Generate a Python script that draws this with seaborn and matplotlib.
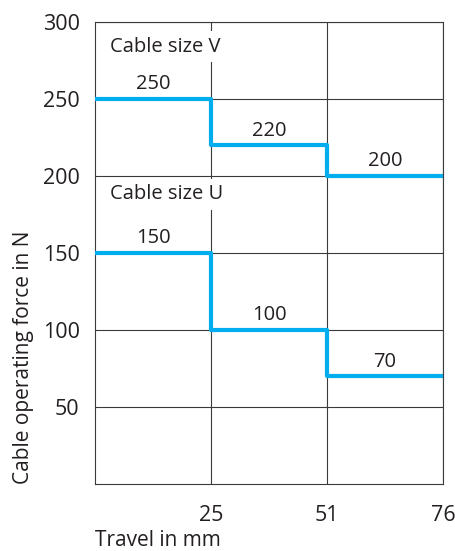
"""
Step chart: cable operating force vs travel for two cable sizes.
"""
import matplotlib
matplotlib.use("Agg")
import matplotlib.pyplot as plt
import seaborn as sns
import pandas as pd

# ----------------------------------------------------------------------
# Data
# ----------------------------------------------------------------------
TRAVEL = [0, 25, 51, 76]
FORCE_V = [250, 220, 200, 200]
FORCE_U = [150, 100, 70, 70]
Y_TICKS = [50, 100, 150, 200, 250, 300]
X_TICK_LABELS = ["25", "51", "76"]

LINE_COLOR = "#00AEEF"
GRID_COLOR = "#3a3a3a"
TEXT_COLOR = "#231f20"

sns.set_theme(style="white")
plt.rcParams["font.family"] = ["Open Sans", "DejaVu Sans"]

fig = plt.figure(figsize=(4.55, 5.51), dpi=100)
ax = fig.add_axes([95 / 455, 67 / 551, 348 / 455, 462 / 551])

# the chart spaces the travel stops evenly, so plot against stop index
pos = list(range(len(TRAVEL)))
df = pd.DataFrame({"pos": pos * 2,
                   "force": FORCE_V + FORCE_U,
                   "size": ["V"] * 4 + ["U"] * 4})

for size in ["V", "U"]:
    sns.lineplot(data=df[df["size"] == size], x="pos", y="force",
                 drawstyle="steps-post", color=LINE_COLOR, lw=3.0,
                 ax=ax, clip_on=False, zorder=3, solid_capstyle="butt")

# value labels above each step
for series in (FORCE_V, FORCE_U):
    for i in range(3):
        ax.text(pos[i] + 0.5, series[i] + 3, str(series[i]), ha="center",
                va="bottom", fontsize=14.5, color=TEXT_COLOR, zorder=4)

bbox = dict(facecolor="white", edgecolor="none", pad=4)
ax.text(0.13, 284, "Cable size V", ha="left", va="center", fontsize=14.5,
        color=TEXT_COLOR, bbox=bbox, zorder=4)
ax.text(0.13, 188, "Cable size U", ha="left", va="center", fontsize=14.5,
        color=TEXT_COLOR, bbox=bbox, zorder=4)

ax.set_xlim(0, 3)
ax.set_ylim(0, 300)
ax.set_xticks(pos[1:])
ax.set_xticklabels(X_TICK_LABELS)
ax.set_yticks(Y_TICKS)
ax.tick_params(axis="y", length=0, pad=11, labelsize=15.5, colors=TEXT_COLOR)
ax.tick_params(axis="x", length=0, pad=15, labelsize=15.5, colors=TEXT_COLOR)
ax.grid(True, color=GRID_COLOR, lw=0.8, zorder=1)
ax.set_axisbelow(True)
for sp in ax.spines.values():
    sp.set_color(GRID_COLOR)
    sp.set_linewidth(0.8)

ax.set_xlabel("Travel in mm", fontsize=15, loc="left", labelpad=3,
              color=TEXT_COLOR)
ax.set_ylabel("Cable operating force in N", fontsize=15, loc="bottom",
              labelpad=6, color=TEXT_COLOR)

fig.savefig("out.png", dpi=100)
